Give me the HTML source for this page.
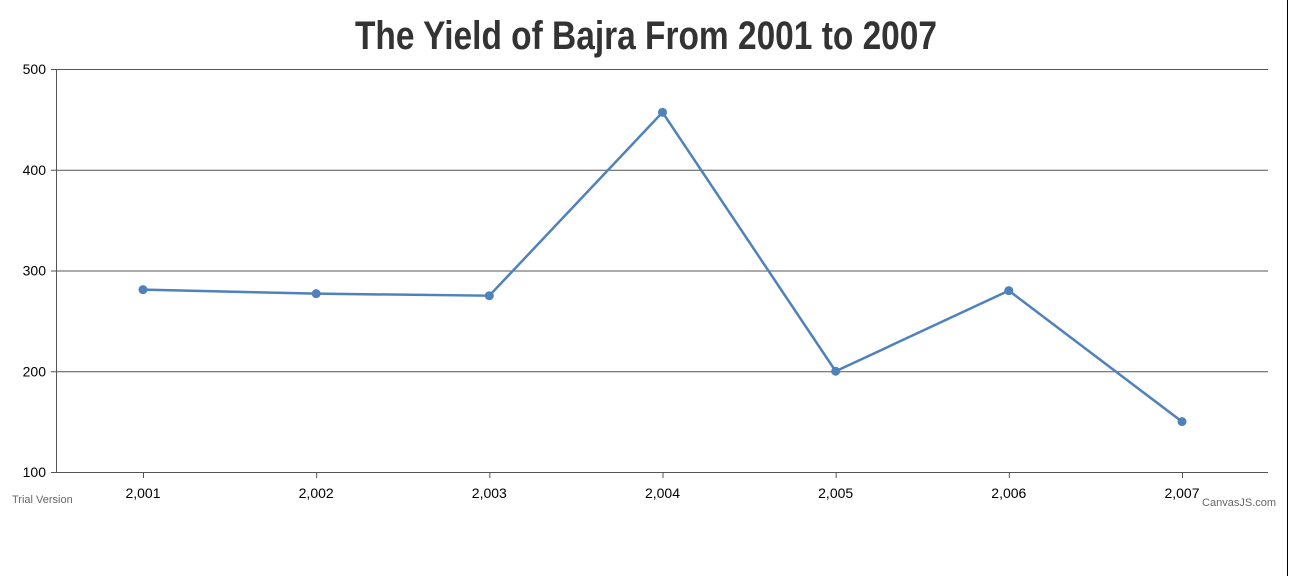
<!DOCTYPE html>
<html><head><meta charset="utf-8"><style>
html,body{margin:0;padding:0;background:#fff;width:1289px;height:576px;overflow:hidden}
svg{display:block}
</style></head><body>
<svg id="chart" width="1289" height="576" font-family="'Liberation Sans', sans-serif">
<text x="646" y="49" text-anchor="middle" font-family="'Liberation Sans Narrow','Liberation Sans',sans-serif" font-weight="bold" font-size="40" fill="#333" textLength="582" lengthAdjust="spacingAndGlyphs">The Yield of Bajra From 2001 to 2007</text>
<line x1="1287.5" y1="0" x2="1287.5" y2="576" stroke="#000" stroke-width="1"/>
<g id="grid"></g><g id="axes"></g><g id="series"></g>
<text x="12" y="503" font-size="11" fill="#666">Trial Version</text>
<text x="1276" y="506" font-size="11" fill="#666" text-anchor="end">CanvasJS.com</text>
</svg>
<script>
const categories=[2001,2002,2003,2004,2005,2006,2007];
const values=[281,277,275,457,200,280,150];
const yTicks=[100,200,300,400,500];
const xLabels=["2,001","2,002","2,003","2,004","2,005","2,006","2,007"];
const NS="http://www.w3.org/2000/svg";
const L=56,R=1268,T=69,B=472;
const x=c=>143+(c-2001)*(1182-143)/6;
const y=v=>B-(v-100)*(B-T)/400;
function mk(tag,at,parent){const e=document.createElementNS(NS,tag);for(const k in at)e.setAttribute(k,at[k]);parent.appendChild(e);return e;}
const grid=document.getElementById('grid'),axes=document.getElementById('axes'),ser=document.getElementById('series');
yTicks.forEach(t=>{
 const g=mk('line',{x1:L-5,x2:R,y1:y(t)+0.5,y2:y(t)+0.5,stroke:'#555','stroke-width':1},grid);
 
 
 const tx=mk('text',{x:L-10,y:y(t)+5,'text-anchor':'end','font-size':14,fill:'#000'},axes);
 tx.textContent=t;
 
 
});
const ya=mk('line',{x1:L+0.5,x2:L+0.5,y1:T,y2:B,stroke:'#555'},axes);


categories.forEach((c,i)=>{
 const tk=mk('line',{x1:x(c)+0.5,x2:x(c)+0.5,y1:B,y2:B+6,stroke:'#555'},axes);
 
 
 const tx=mk('text',{x:x(c),y:B+26,'text-anchor':'middle','font-size':14,fill:'#000'},axes);
 tx.textContent=xLabels[i];
 
 
});
const pts=categories.map((c,i)=>x(c)+','+y(values[i])).join(' ');
const pl=mk('polyline',{points:pts,fill:'none',stroke:'#4f81bc','stroke-width':2.5,'stroke-linejoin':'round'},ser);


categories.forEach((c,i)=>{
 const p=mk('circle',{cx:x(c),cy:y(values[i]),r:4.5,fill:'#4f81bc'},ser);
 
 
});
</script>
</body></html>
